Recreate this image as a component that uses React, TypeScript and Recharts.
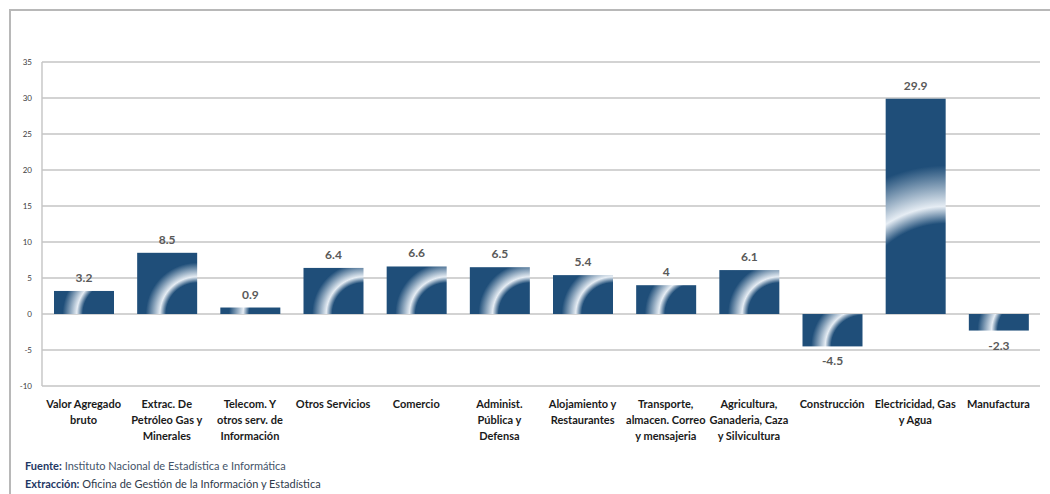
import { BarChart, Bar, XAxis, YAxis, CartesianGrid, LabelList } from 'recharts'

const categories = [
  'Valor Agregado\nbruto',
  'Extrac. De\nPetróleo Gas y\nMinerales',
  'Telecom. Y\notros serv. de\nInformación',
  'Otros Servicios',
  'Comercio',
  'Administ.\nPública y\nDefensa',
  'Alojamiento y\nRestaurantes',
  'Transporte,\nalmacen. Correo\ny mensajeria',
  'Agricultura,\nGanaderia, Caza\ny Silvicultura',
  'Construcción',
  'Electricidad, Gas\ny Agua',
  'Manufactura',
]

const values = [3.2, 8.5, 0.9, 6.4, 6.6, 6.5, 5.4, 4, 6.1, -4.5, 29.9, -2.3]

const yTicks = [-10, -5, 0, 5, 10, 15, 20, 25, 30, 35]

const data = categories.map((name, i) => ({ name, value: values[i] }))

const FONT = 'Lato, "Open Sans", sans-serif'
const DARK = '#1F4E79'

// dark bar with a light arc centred on its bottom-right corner
function GlossBar(props: any) {
  const { x, y, width, height, index } = props
  const top = Math.min(y, y + height)
  const h = Math.abs(height)
  const r = Math.max(0.62 * width, 0.5 * h)
  const R = r * 1.4
  const id = `gloss-${index}`
  return (
    <g>
      <defs>
        <radialGradient id={id} gradientUnits="userSpaceOnUse" cx={x + width} cy={top + h} r={R}>
          <stop offset={0} stopColor={DARK} />
          <stop offset={(r * 0.84) / R} stopColor={DARK} />
          <stop offset={r / R} stopColor="#E6EDF4" />
          <stop offset={(r * 1.38) / R} stopColor={DARK} />
          <stop offset={1} stopColor={DARK} />
        </radialGradient>
      </defs>
      <rect x={x} y={top} width={width} height={h} fill={`url(#${id})`} />
    </g>
  )
}

function ValueLabel(props: any) {
  const { x, y, width, height, value } = props
  const top = Math.min(y, y + height)
  const bottom = Math.max(y, y + height)
  const ty = value >= 0 ? top - 9 : bottom + 19
  return (
    <text x={x + width / 2} y={ty} textAnchor="middle" fontFamily={FONT} fontWeight={700} fontSize={12} fill="#595959">
      {value}
    </text>
  )
}

function CategoryTick(props: any) {
  const { x, y, payload } = props
  const lines = String(payload.value).split('\n')
  return (
    <text x={x} y={y} textAnchor="middle" fontFamily={FONT} fontWeight={700} fontSize={11} fill="#1a1a1a">
      {lines.map((line, i) => (
        <tspan key={i} x={x} dy={i === 0 ? 14 : 16}>
          {line}
        </tspan>
      ))}
    </text>
  )
}

export default function App() {
  return (
    <div style={{ position: 'absolute', left: 0, top: 0, width: 1050, height: 494, background: '#fff', overflow: 'hidden' }}>
      <div
        style={{
          position: 'absolute',
          left: 9,
          top: 9,
          width: 1100,
          height: 600,
          borderLeft: '2px solid #B8B8B8',
          borderTop: '2px solid #B8B8B8',
        }}
      />
      <div style={{ position: 'absolute', left: 0, top: 0 }}>
        <BarChart width={1050} height={494} data={data} margin={{ top: 62, right: 10, left: 0, bottom: 8 }}>
          <CartesianGrid yAxisId="l" vertical={false} stroke="#C4C4C4" strokeWidth={1.4} />
          <XAxis dataKey="name" axisLine={false} tickLine={false} interval={0} height={100} tick={<CategoryTick />} />
          <YAxis
            yAxisId="l"
            domain={[-10, 35]}
            ticks={yTicks}
            width={42}
            tickLine={false}
            tickMargin={4}
            axisLine={{ stroke: '#C4C4C4', strokeWidth: 1.4 }}
            tick={{ fontSize: 8, fill: '#404040', fontFamily: FONT }}
          />
          <YAxis
            yAxisId="r"
            orientation="right"
            domain={[-10, 35]}
            ticks={yTicks}
            width={0}
            tick={false}
            tickLine={false}
            axisLine={{ stroke: '#C4C4C4', strokeWidth: 1.4 }}
          />
          <Bar yAxisId="l" dataKey="value" barSize={60} isAnimationActive={false} shape={<GlossBar />}>
            <LabelList dataKey="value" content={<ValueLabel />} />
          </Bar>
        </BarChart>
      </div>
      <div style={{ position: 'absolute', left: 25, top: 457, fontFamily: FONT, fontSize: 11, lineHeight: '17.5px', whiteSpace: 'nowrap' }}>
        <div>
          <span style={{ fontWeight: 700, color: '#1F3864' }}>Fuente:</span>{' '}
          <span style={{ color: '#44546A' }}>Instituto Nacional de Estadística e Informática</span>
        </div>
        <div>
          <span style={{ fontWeight: 700, color: '#1F3864' }}>Extracción:</span>{' '}
          <span style={{ color: '#2F3B4C' }}>Oficina de Gestión de la Información y Estadística</span>
        </div>
      </div>
    </div>
  )
}
